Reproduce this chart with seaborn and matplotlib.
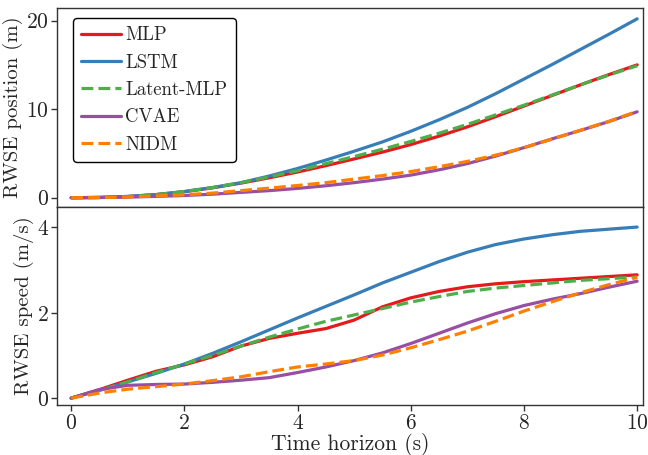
import matplotlib
matplotlib.use("Agg")
import matplotlib.pyplot as plt
import numpy as np
import pandas as pd
import seaborn as sns

# time horizon (s), sampled every 0.5 s
horizon = [0, 0.5, 1, 1.5, 2, 2.5, 3, 3.5, 4, 4.5, 5,
           5.5, 6, 6.5, 7, 7.5, 8, 8.5, 9, 9.5, 10]

models = ["MLP", "LSTM", "Latent-MLP", "CVAE", "NIDM"]

# RWSE position (m)
pos_mlp = [0, 0.03, 0.13, 0.35, 0.68, 1.12, 1.65, 2.25, 2.9, 3.62, 4.38,
           5.15, 6.0, 6.95, 8.0, 9.15, 10.35, 11.55, 12.75, 13.9, 15.0]
pos_lstm = [0, 0.03, 0.15, 0.35, 0.7, 1.15, 1.7, 2.45, 3.3, 4.25, 5.25,
            6.3, 7.5, 8.8, 10.2, 11.75, 13.4, 15.05, 16.75, 18.45, 20.2]
pos_latent = [0, 0.03, 0.13, 0.35, 0.7, 1.15, 1.7, 2.35, 3.05, 3.85, 4.65,
              5.48, 6.35, 7.28, 8.28, 9.35, 10.45, 11.6, 12.75, 13.85, 14.9]
pos_cvae = [0, 0.02, 0.07, 0.15, 0.25, 0.4, 0.6, 0.8, 1.05, 1.35, 1.7,
            2.1, 2.55, 3.15, 3.85, 4.7, 5.65, 6.65, 7.6, 8.6, 9.7]
pos_nidm = [0, 0.02, 0.08, 0.2, 0.33, 0.52, 0.8, 1.08, 1.38, 1.7, 2.1,
            2.5, 2.95, 3.5, 4.1, 4.8, 5.65, 6.62, 7.62, 8.62, 9.75]

# RWSE speed (m/s)
spd_mlp = [0, 0.2, 0.42, 0.63, 0.78, 0.97, 1.22, 1.4, 1.52, 1.63, 1.83,
           2.14, 2.35, 2.5, 2.61, 2.68, 2.73, 2.77, 2.81, 2.85, 2.89]
spd_lstm = [0, 0.18, 0.38, 0.58, 0.8, 1.05, 1.32, 1.6, 1.88, 2.15, 2.42,
            2.7, 2.95, 3.2, 3.42, 3.6, 3.73, 3.83, 3.91, 3.96, 4.01]
spd_latent = [0, 0.18, 0.38, 0.6, 0.8, 1.0, 1.22, 1.43, 1.62, 1.8, 1.95,
              2.1, 2.25, 2.38, 2.5, 2.58, 2.64, 2.7, 2.76, 2.8, 2.84]
spd_cvae = [0, 0.2, 0.3, 0.32, 0.33, 0.37, 0.42, 0.48, 0.6, 0.73, 0.88,
            1.06, 1.28, 1.52, 1.76, 1.98, 2.17, 2.32, 2.45, 2.6, 2.74]
spd_nidm = [0, 0.12, 0.21, 0.27, 0.33, 0.41, 0.5, 0.62, 0.73, 0.8, 0.88,
            1.01, 1.18, 1.37, 1.57, 1.8, 2.04, 2.26, 2.47, 2.66, 2.83]

position = dict(zip(models, [pos_mlp, pos_lstm, pos_latent, pos_cvae, pos_nidm]))
speed = dict(zip(models, [spd_mlp, spd_lstm, spd_latent, spd_cvae, spd_nidm]))

colors = dict(zip(models, sns.color_palette("Set1", 5)))
dashes = {"MLP": "", "LSTM": "", "Latent-MLP": (3.7, 1.6), "CVAE": "", "NIDM": (3.7, 1.6)}


def to_long(values: dict) -> pd.DataFrame:
    rows = []
    for m in models:
        for t, v in zip(horizon, values[m]):
            rows.append({"t": t, "value": v, "model": m})
    return pd.DataFrame(rows)


sns.set_style("ticks")
plt.rcParams["font.family"] = "serif"
plt.rcParams["font.serif"] = ["cmr10", "DejaVu Serif"]
plt.rcParams["mathtext.fontset"] = "cm"
plt.rcParams["axes.formatter.use_mathtext"] = True
plt.rcParams["axes.unicode_minus"] = False

fig, (ax1, ax2) = plt.subplots(2, 1, sharex=True, figsize=(6.48, 4.55), dpi=100)
fig.subplots_adjust(left=0.088, right=0.992, top=0.982, bottom=0.11, hspace=0)

for ax, data in [(ax1, position), (ax2, speed)]:
    sns.lineplot(data=to_long(data), x="t", y="value", hue="model", style="model",
                 hue_order=models, style_order=models, palette=colors, dashes=dashes,
                 linewidth=2.3, ax=ax, legend=(ax is ax1))
    for side in ["top", "right", "left", "bottom"]:
        ax.spines[side].set_visible(True)
        ax.spines[side].set_color("#333333")
        ax.spines[side].set_linewidth(1.0)
    ax.tick_params(labelsize=15.5, length=4, width=1, color="#333333", pad=2)

ax1.set_ylim(-1.0, 21.4)
ax1.set_yticks([0, 10, 20])
ax1.set_ylabel("RWSE position (m)", fontsize=15, labelpad=2)
ax1.tick_params(axis="x", length=0)

ax2.set_xlim(-0.25, 10.1)
ax2.set_ylim(-0.16, 4.49)
ax2.set_xticks([0, 2, 4, 6, 8, 10])
ax2.set_yticks([0, 2, 4])
ax2.set_ylabel("RWSE speed (m/s)", fontsize=15, labelpad=2)
ax2.set_xlabel("Time horizon (s)", fontsize=15.5, labelpad=0)

ax1.legend(title=None, loc="upper left", bbox_to_anchor=(0.027, 0.95), borderaxespad=0,
           fontsize=13.5, frameon=True, fancybox=True, edgecolor="black", framealpha=1,
           handlelength=2.1, handletextpad=0.25, borderpad=0.45, labelspacing=0.5)

fig.savefig("out.png", dpi=100)
